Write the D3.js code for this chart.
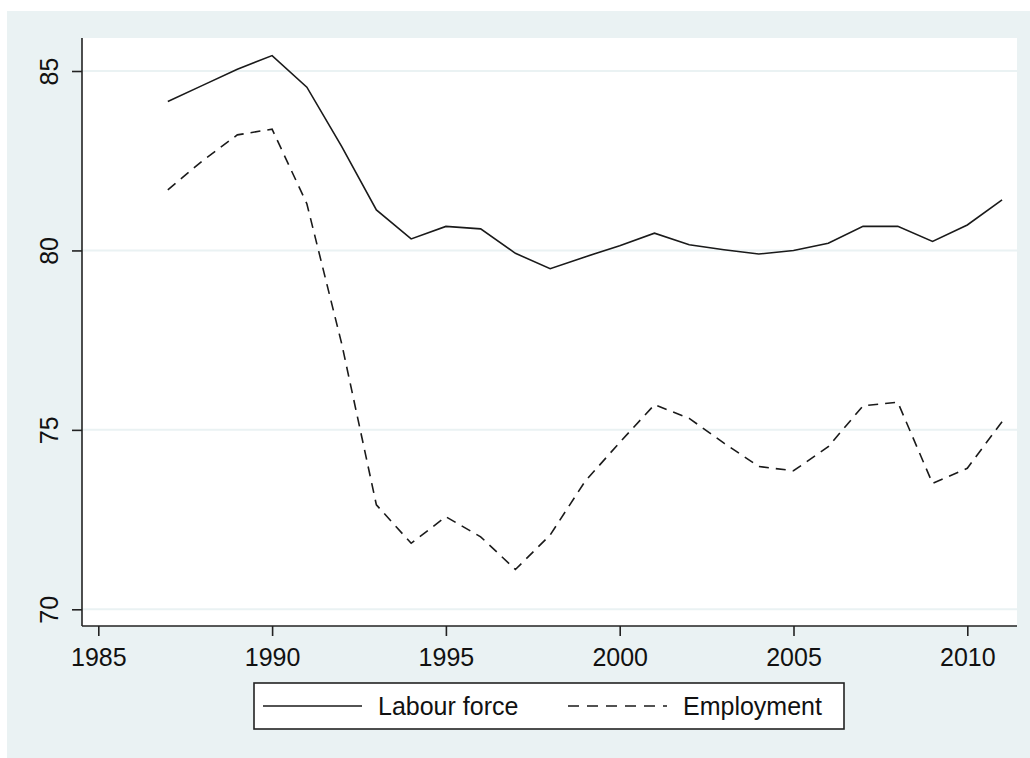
<!DOCTYPE html>
<html>
<head>
<meta charset="utf-8">
<script src="https://cdn.jsdelivr.net/npm/d3@7"></script>
<style>
  body { margin: 0; background: #fff; }
  text { font-family: "Liberation Sans", Arial, sans-serif; fill: #111; }
</style>
</head>
<body>
<svg id="chart" width="1030" height="758"></svg>
<script>
const years = [1987, 1988, 1989, 1990, 1991, 1992, 1993, 1994, 1995, 1996, 1997, 1998, 1999,
    2000, 2001, 2002, 2003, 2004, 2005, 2006, 2007, 2008, 2009, 2010, 2011];
const labourForce = [84.15, 84.6, 85.05, 85.43, 84.55, 82.9, 81.13, 80.32, 80.67, 80.6, 79.92, 79.49, 79.82,
    80.13, 80.48, 80.16, 80.02, 79.9, 80.0, 80.2, 80.67, 80.67, 80.25, 80.71, 81.41];
const employment = [81.69, 82.5, 83.22, 83.38, 81.3, 77.41, 72.91, 71.84, 72.58, 72.02, 71.11, 72.07, 73.56,
    74.65, 75.7, 75.32, 74.63, 73.98, 73.86, 74.53, 75.67, 75.77, 73.51, 73.93, 75.23];
const xTicks = [1985, 1990, 1995, 2000, 2005, 2010];
const yTicks = [70, 75, 80, 85];
const seriesNames = ["Labour force", "Employment"];

const svg = d3.select("#chart");
const plot = { left: 82, right: 1017, top: 38, bottom: 626 };

// outer graph region
svg.append("rect").attr("x", 7).attr("y", 11).attr("width", 1023).attr("height", 747).attr("fill", "#eaf2f3");
svg.append("rect").attr("x", plot.left).attr("y", plot.top)
    .attr("width", plot.right - plot.left).attr("height", plot.bottom - plot.top).attr("fill", "#fff");

const x = d3.scaleLinear().domain([1985, 2010]).range([98.3, 967.3]);
const y = d3.scaleLinear().domain([70, 85]).range([609.3, 71]);

// grid
svg.append("g").selectAll("line").data(yTicks).join("line")
    .attr("x1", plot.left).attr("x2", plot.right)
    .attr("y1", d => y(d)).attr("y2", d => y(d))
    .attr("stroke", "#eaf2f3").attr("stroke-width", 2);

// axes
const yAxis = svg.append("g").attr("transform", `translate(${plot.left},0)`)
    .call(d3.axisLeft(y).tickValues(yTicks).tickSize(10).tickPadding(14).tickSizeOuter(0));
yAxis.select(".domain").attr("d", `M0,${plot.top}V${plot.bottom}`);
yAxis.selectAll(".tick text")
    .attr("transform", "rotate(-90)").attr("x", 0).attr("dy", 0).attr("y", -24)
    .attr("text-anchor", "middle").style("font-size", "25px").style("font-family", "Liberation Sans, Arial, sans-serif");

const xAxis = svg.append("g").attr("transform", `translate(0,${plot.bottom})`)
    .call(d3.axisBottom(x).tickValues(xTicks).tickFormat(d3.format("d")).tickSize(10).tickPadding(10).tickSizeOuter(0));
xAxis.select(".domain").attr("d", `M${plot.left},0H${plot.right}`);
xAxis.selectAll(".tick text").attr("dy", 0).attr("y", 40)
    .style("font-size", "25px").style("font-family", "Liberation Sans, Arial, sans-serif");

svg.selectAll(".domain, .tick line").attr("stroke", "#222").attr("stroke-width", 1.6);

// lines
const line = d3.line().x((d, i) => x(years[i])).y(d => y(d));
svg.append("path").datum(labourForce).attr("d", line)
    .attr("fill", "none").attr("stroke", "#1a1a1a").attr("stroke-width", 1.6);
svg.append("path").datum(employment).attr("d", line)
    .attr("fill", "none").attr("stroke", "#1a1a1a").attr("stroke-width", 1.6).attr("stroke-dasharray", "10,7");

// legend
const legend = svg.append("g");
legend.append("rect").attr("x", 254).attr("y", 683).attr("width", 590).attr("height", 46)
    .attr("fill", "#fff").attr("stroke", "#222").attr("stroke-width", 1.6);
const dashes = [null, "11,8"];
const legendX = [263, 568];
seriesNames.forEach((name, i) => {
    legend.append("line").attr("x1", legendX[i]).attr("x2", legendX[i] + 99).attr("y1", 706).attr("y2", 706)
        .attr("stroke", "#1a1a1a").attr("stroke-width", 1.6).attr("stroke-dasharray", dashes[i]);
    legend.append("text").attr("x", legendX[i] + 115).attr("y", 715).style("font-size", "25px").text(name);
});
</script>
</body>
</html>
